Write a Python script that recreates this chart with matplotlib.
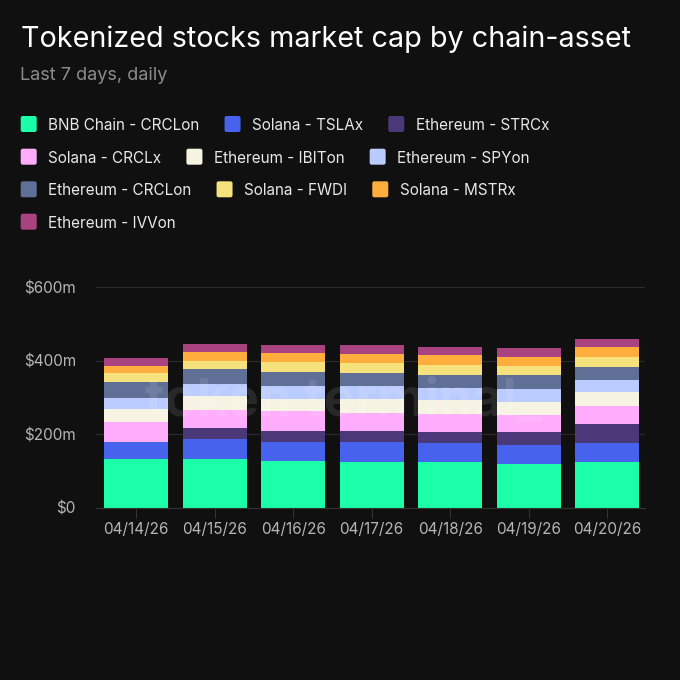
import matplotlib
matplotlib.use("Agg")
import matplotlib.pyplot as plt
from matplotlib.patches import FancyBboxPatch
import numpy as np

dates = ["04/14/26", "04/15/26", "04/16/26", "04/17/26", "04/18/26", "04/19/26", "04/20/26"]

series_names = [
    "BNB Chain - CRCLon", "Solana - TSLAx", "Ethereum - STRCx",
    "Solana - CRCLx", "Ethereum - IBITon", "Ethereum - SPYon",
    "Ethereum - CRCLon", "Solana - FWDI", "Solana - MSTRx",
    "Ethereum - IVVon",
]

# values in $m, bottom to top of each stack
bnb_crclon = [132, 132, 127, 124, 124, 120, 124]
sol_tslax = [48, 55, 53, 56, 52, 51, 52]
eth_strcx = [0, 29, 29, 29, 29, 34, 52]
sol_crclx = [53, 50, 53, 50, 49, 46, 48]
eth_ibiton = [35, 38, 35, 38, 39, 37, 38]
eth_spyon = [32, 32, 33, 33, 32, 35, 33]
eth_crclon = [41, 41, 40, 36, 37, 37, 37]
sol_fwdi = [26, 23, 26, 27, 27, 26, 26]
sol_mstrx = [20, 23, 25, 26, 27, 23, 27]
eth_ivvon = [21, 23, 21, 23, 21, 27, 21]

series = [bnb_crclon, sol_tslax, eth_strcx, sol_crclx, eth_ibiton,
          eth_spyon, eth_crclon, sol_fwdi, sol_mstrx, eth_ivvon]

colors = ["#1bffa8", "#4762ec", "#4a3878", "#ffacfc", "#f6f3e3",
          "#bacbff", "#5f6f96", "#f5e27d", "#ffad3d", "#a8437f"]

yticks = [0, 200, 400, 600]
ytick_labels = ["$0", "$200m", "$400m", "$600m"]

BG = "#101010"
FONT = ["Inter", "DejaVu Sans"]
plt.rcParams["font.family"] = FONT

W = H = 680
fig = plt.figure(figsize=(6.8, 6.8), dpi=100, facecolor=BG)

# title block
fig.text(21 / W, 1 - 47.3 / H, "Tokenized stocks market cap by chain-asset",
         color="white", fontsize=20.7, va="baseline", ha="left")
fig.text(20 / W, 1 - 80 / H, "Last 7 days, daily", color="#8c8c8c",
         fontsize=13, va="baseline", ha="left")

# legend, laid out as a flowing grid of rows
rows = [[0, 1, 2], [3, 4, 5], [6, 7, 8], [9]]
row_centers = [124, 156.7, 189.3, 221.7]
fig.canvas.draw()
renderer = fig.canvas.get_renderer()
for row, yc in zip(rows, row_centers):
    x = 20.7
    for idx in row:
        sq = FancyBboxPatch((x / W, 1 - (yc + 8) / H), 16 / W, 16 / H,
                            boxstyle="round,pad=0,rounding_size=0.003",
                            transform=fig.transFigure, facecolor=colors[idx],
                            edgecolor="none")
        fig.patches.append(sq)
        t = fig.text((x + 27.6) / W, 1 - (yc + 6) / H, series_names[idx],
                     color="#e8e8e8", fontsize=11, va="baseline", ha="left")
        bb = t.get_window_extent(renderer)
        x = bb.x1 + 25

# plot area
ax = fig.add_axes([96 / W, 1 - 507.7 / H, (645 - 96) / W, (507.7 - 287.3) / H])
ax.set_facecolor(BG)
xpos = np.arange(len(dates))
bottom = np.zeros(len(dates))
for vals, c in zip(series, colors):
    ax.bar(xpos, vals, width=0.815, bottom=bottom, color=c, zorder=3, linewidth=0)
    bottom += np.array(vals)

ax.set_xlim(-0.51, 6.48)
ax.set_ylim(0, 600)
ax.set_yticks(yticks)
ax.set_yticklabels(ytick_labels)
ax.set_xticks(xpos)
ax.set_xticklabels(dates)
ax.grid(axis="y", color="#2b2b2b", linewidth=0.8, zorder=0)
for s in ["top", "right", "left"]:
    ax.spines[s].set_visible(False)
ax.spines["bottom"].set_color("#333333")
ax.spines["bottom"].set_zorder(4)
ax.tick_params(axis="y", length=0, pad=14.5, labelsize=11, labelcolor="#b5b5b5")
ax.tick_params(axis="x", length=7.2, width=0.8, color="#333333", pad=3,
               labelsize=11, labelcolor="#b5b5b5")

# watermark
fig.text(343 / W, 1 - 402 / H, "token terminal_", color="white", alpha=0.1,
         fontsize=38, fontweight="bold", ha="center", va="center", zorder=10)

fig.savefig("out.png", dpi=100, facecolor=BG)
